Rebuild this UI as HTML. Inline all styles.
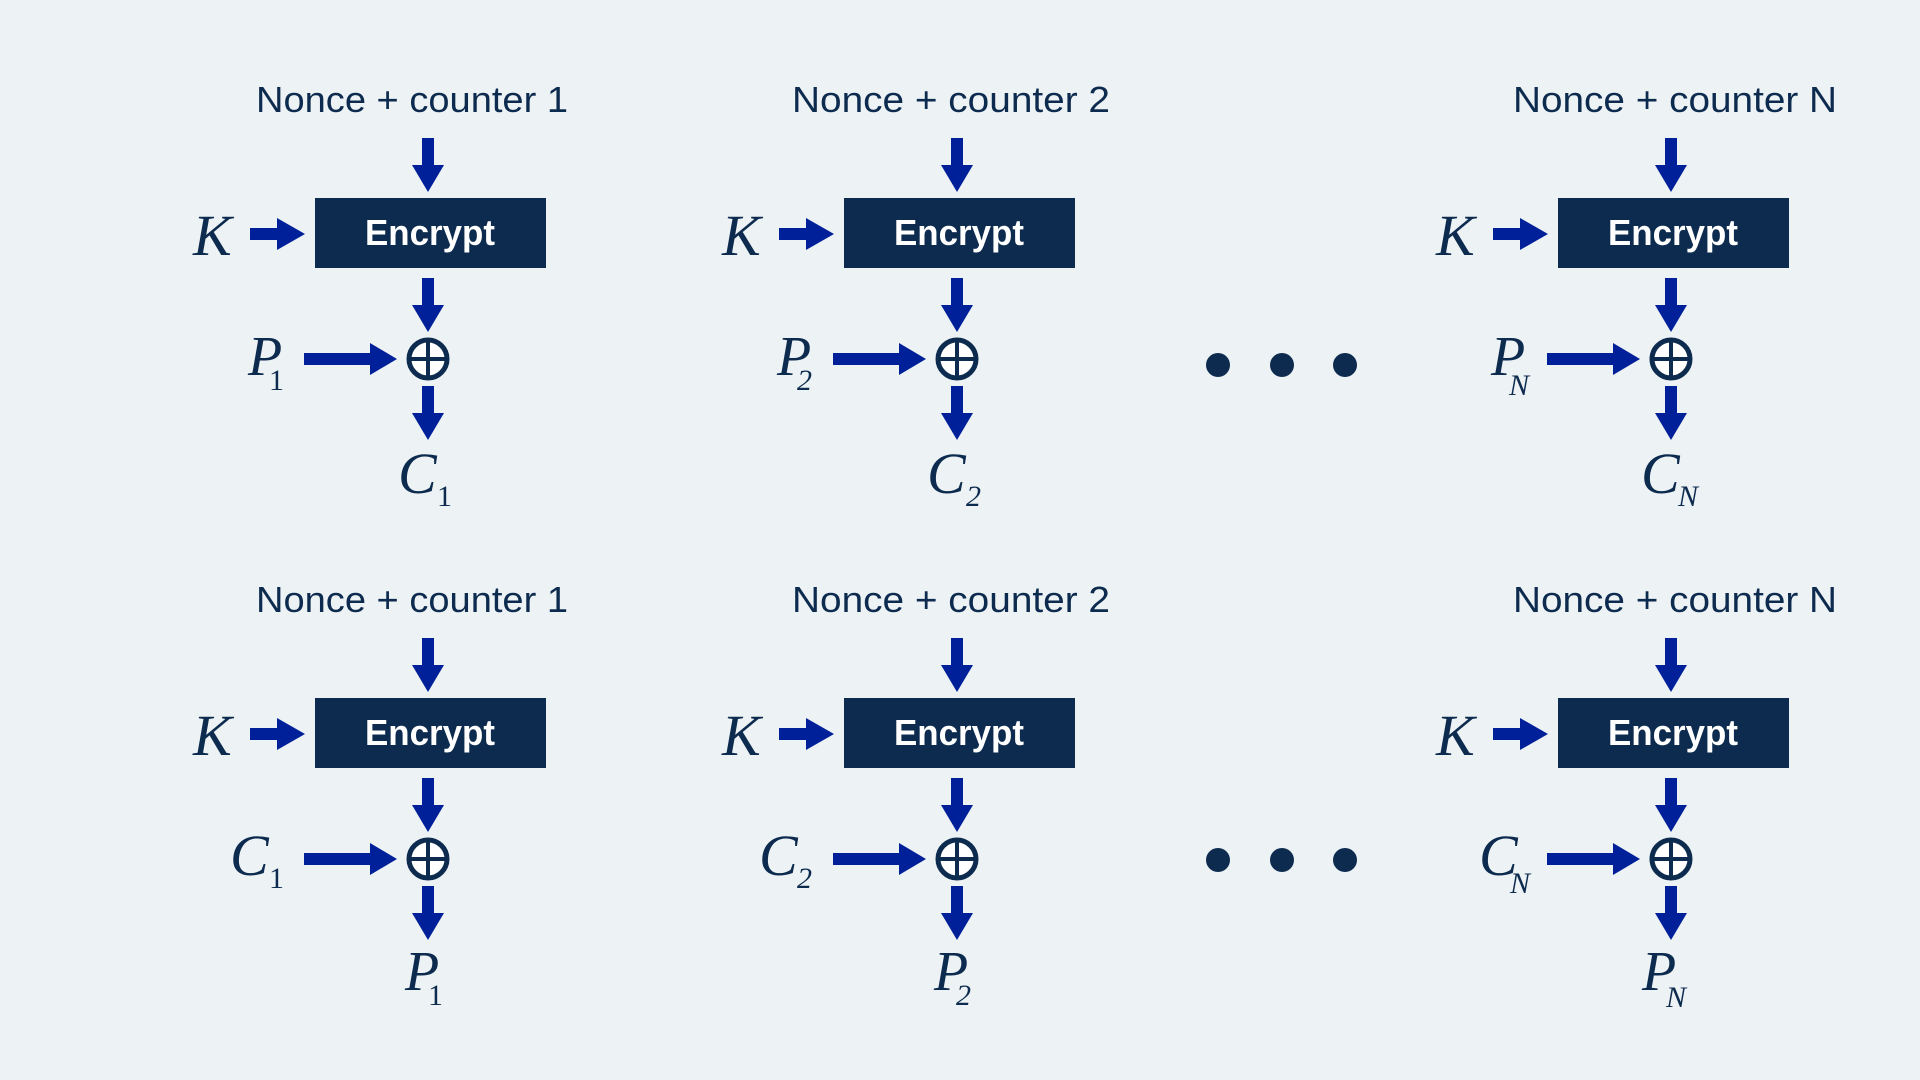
<!DOCTYPE html>
<html><head><meta charset="utf-8"><style>
html,body{margin:0;padding:0;background:#edf2f5;}
svg{display:block}
.n{font-family:"Liberation Sans",sans-serif;font-size:36px;fill:#0d2b4e;text-anchor:middle}
.e{font-family:"Liberation Sans",sans-serif;font-weight:bold;font-size:36px;fill:#fff;text-anchor:middle}
.v{font-family:"Liberation Serif",serif;font-style:italic;fill:#0d2b4e}
.a{fill:#00209a}
</style></head><body>
<svg width="1920" height="1080" viewBox="0 0 1920 1080" xmlns="http://www.w3.org/2000/svg">
<rect width="1920" height="1080" fill="#edf2f5"/>
<defs>
<g id="blk">
<rect class="a" x="422" y="138" width="12" height="28"/><polygon class="a" points="412,165 444,165 428,192"/>
<rect x="315" y="198" width="231" height="70" fill="#0d2b4e"/>
<rect class="a" x="250" y="228" width="28" height="12"/><polygon class="a" points="277,218 277,250 305,234"/>
<rect class="a" x="422" y="278" width="12" height="28"/><polygon class="a" points="412,305 444,305 428,332"/>
<circle cx="428" cy="359" r="19" fill="#fff" stroke="#0d2b4e" stroke-width="5"/>
<line x1="409" y1="359" x2="447" y2="359" stroke="#0d2b4e" stroke-width="4"/>
<line x1="428" y1="340" x2="428" y2="378" stroke="#0d2b4e" stroke-width="4"/>
<rect class="a" x="304" y="353" width="68" height="12"/><polygon class="a" points="370,343 370,375 397,359"/>
<rect class="a" x="422" y="386" width="12" height="28"/><polygon class="a" points="412,413 444,413 428,440"/>
</g>
</defs>
<g>
<use href="#blk"/><use href="#blk" x="529"/><use href="#blk" x="1243"/>
<use href="#blk" y="500"/><use href="#blk" x="529" y="500"/><use href="#blk" x="1243" y="500"/>
</g>
<!-- row 1 -->
<text class="n" x="412" y="112" textLength="312" lengthAdjust="spacingAndGlyphs">Nonce + counter 1</text>
<text class="n" x="951" y="112" textLength="318" lengthAdjust="spacingAndGlyphs">Nonce + counter 2</text>
<text class="n" x="1675" y="112" textLength="324" lengthAdjust="spacingAndGlyphs">Nonce + counter N</text>
<g class="e">
<text x="430" y="245" textLength="130" lengthAdjust="spacingAndGlyphs">Encrypt</text>
<text x="959" y="245" textLength="130" lengthAdjust="spacingAndGlyphs">Encrypt</text>
<text x="1673" y="245" textLength="130" lengthAdjust="spacingAndGlyphs">Encrypt</text>
<text x="430" y="745" textLength="130" lengthAdjust="spacingAndGlyphs">Encrypt</text>
<text x="959" y="745" textLength="130" lengthAdjust="spacingAndGlyphs">Encrypt</text>
<text x="1673" y="745" textLength="130" lengthAdjust="spacingAndGlyphs">Encrypt</text>
</g>
<g class="v" font-size="58">
<text x="193" y="255">K</text><text x="722" y="255">K</text><text x="1436" y="255">K</text>
<text x="193" y="755">K</text><text x="722" y="755">K</text><text x="1436" y="755">K</text>
</g>
<!-- row1 labels -->
<g class="v">
<text x="248" y="375" font-size="56">P</text><text x="269" y="390" font-size="30" font-style="normal">1</text>
<text x="777" y="375" font-size="56">P</text><text x="797" y="390" font-size="30">2</text>
<text x="1491" y="375" font-size="56">P</text><text x="1509" y="395" font-size="30">N</text>
<text x="398" y="493" font-size="58">C</text><text x="437" y="506" font-size="30" font-style="normal">1</text>
<text x="927" y="493" font-size="58">C</text><text x="966" y="506" font-size="30">2</text>
<text x="1641" y="493" font-size="58">C</text><text x="1678" y="506" font-size="30">N</text>
</g>
<!-- row 2 -->
<text class="n" x="412" y="612" textLength="312" lengthAdjust="spacingAndGlyphs">Nonce + counter 1</text>
<text class="n" x="951" y="612" textLength="318" lengthAdjust="spacingAndGlyphs">Nonce + counter 2</text>
<text class="n" x="1675" y="612" textLength="324" lengthAdjust="spacingAndGlyphs">Nonce + counter N</text>
<g class="v">
<text x="230" y="875" font-size="58">C</text><text x="269" y="888" font-size="30" font-style="normal">1</text>
<text x="759" y="875" font-size="58">C</text><text x="797" y="888" font-size="30">2</text>
<text x="1479" y="875" font-size="58">C</text><text x="1510" y="893" font-size="30">N</text>
<text x="405" y="990" font-size="56">P</text><text x="428" y="1005" font-size="30" font-style="normal">1</text>
<text x="934" y="990" font-size="56">P</text><text x="956" y="1005" font-size="30">2</text>
<text x="1642" y="990" font-size="56">P</text><text x="1666" y="1007" font-size="30">N</text>
</g>
<g fill="#0d2b4e">
<circle cx="1218" cy="365" r="12"/><circle cx="1282" cy="365" r="12"/><circle cx="1345" cy="365" r="12"/>
<circle cx="1218" cy="860" r="12"/><circle cx="1282" cy="860" r="12"/><circle cx="1345" cy="860" r="12"/>
</g>
</svg>
</body></html>
